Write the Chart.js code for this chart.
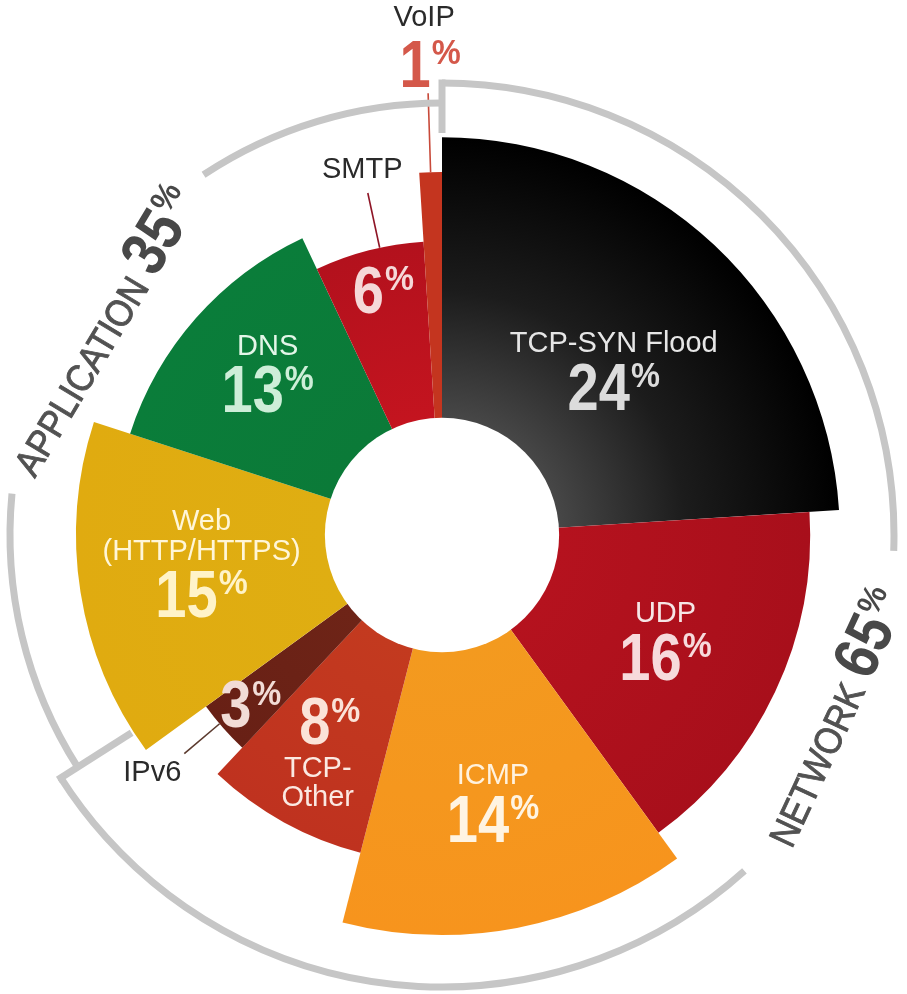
<!DOCTYPE html>
<html lang="en">
<head>
    <meta charset="UTF-8">
    <title>DDoS attack types</title>
    <script src="https://cdn.jsdelivr.net/npm/chart.js"></script>
    <style>
        body {
            margin: 0;
            background: #fff;
        }
        .chart-container {
            position: relative;
            width: 907px;
            height: 994px;
        }
    </style>
</head>
<body>
    <div class="chart-container">
        <canvas id="attackChart"></canvas>
    </div>

    <script>
        // Attack types, clockwise from 12 o'clock
        const categories = ['TCP-SYN Flood', 'UDP', 'ICMP', 'TCP-Other', 'IPv6', 'Web (HTTP/HTTPS)', 'DNS', 'SMTP', 'VoIP'];
        // Share of attacks in percent (sets the slice angle)
        const shares = [24, 16, 14, 8, 3, 15, 13, 6, 1];
        // How far each slice reaches on the radial scale (0-100)
        const reach = [90, 83.3, 90.5, 74.2, 66, 82.8, 74.2, 66.5, 82.1];
        // The two families the slices belong to
        const groups = ['NETWORK', 'APPLICATION'];
        const groupShares = [65, 35];

        // inner / outer colour of every slice
        const sliceShades = [
            ['#474747', '#000000'],
            ['#b5121e', '#a80f1b'],
            ['#f39a1f', '#f7941d'],
            ['#c33a1f', '#bf321f'],
            ['#6e2417', '#682015'],
            ['#dfae12', '#e0ab10'],
            ['#0b7a38', '#0a7d3a'],
            ['#c4141f', '#b3111d'],
            ['#c4351f', '#c4351f']
        ];
        const nameColors = ['#e6e6e6', '#f6e6e6', '#fff2de', '#fbe9e2', '#fbe9e2', '#fff6d8', '#e3f6e8', '#2a2a2a', '#2a2a2a'];
        const pctColors = ['#dcdcdc', '#f7dadc', '#fff4e2', '#fbe3d8', '#f2dcd6', '#fff3c8', '#cdeed8', '#f5d8d8', '#d4584a'];

        const FONT = '"Liberation Sans", Arial, sans-serif';
        const HOLE = 26.5;        // radial value of the white centre
        const PCT_SIZE = 66;
        const NAME_SIZE = 29;

        // label layout inside the slices: distance from centre (px), angle nudge (deg)
        const insideLabels = [
            { lines: ['TCP-SYN Flood'], r: 238, da: 3 },
            { lines: ['UDP'], r: 247, da: 0 },
            { lines: ['ICMP'], r: 272, da: 0 },
            { lines: ['TCP-', 'Other'], r: 250, da: 1, pctFirst: true, pctShift: 12 },
            { lines: [], r: 255, da: 0 },
            { lines: ['Web', '(HTTP/HTTPS)'], r: 242, da: 2.5 },
            { lines: ['DNS'], r: 238, da: 1.5 },
            { lines: [], r: 253, da: 1 },
            null
        ];

        const rad = d => d * Math.PI / 180;

        // draws a run of text pieces centred on x = 0, baseline y = 0
        function drawRun(ctx, segs) {
            let total = 0;
            segs.forEach(s => {
                ctx.font = `${s.bold ? 'bold ' : ''}${s.size}px ${FONT}`;
                s.w = ctx.measureText(s.t).width * (s.sx || 1);
                total += s.w + (s.gap || 0);
            });
            let x = -total / 2;
            segs.forEach(s => {
                ctx.save();
                ctx.font = `${s.bold ? 'bold ' : ''}${s.size}px ${FONT}`;
                ctx.fillStyle = s.color;
                ctx.textAlign = 'left';
                ctx.textBaseline = 'alphabetic';
                ctx.translate(x, -(s.raise || 0));
                ctx.scale(s.sx || 1, 1);
                ctx.fillText(s.t, 0, 0);
                if (s.stroke) {
                    ctx.strokeStyle = s.color;
                    ctx.lineWidth = s.stroke;
                    ctx.strokeText(s.t, 0, 0);
                }
                ctx.restore();
                x += s.w + (s.gap || 0);
            });
        }

        function pctSegs(value, size, color) {
            const ps = size * 0.52;
            return [
                { t: String(value), size: size, bold: true, sx: 0.85, color: color, gap: 1 },
                { t: '%', size: ps, bold: true, sx: 0.95, color: color, raise: size * 0.716 - ps * 0.72 }
            ];
        }

        // text whose cap height is centred on y
        function nameAt(ctx, str, x, y, color, align) {
            ctx.save();
            ctx.font = `${NAME_SIZE}px ${FONT}`;
            ctx.fillStyle = color;
            ctx.textAlign = align || 'center';
            ctx.textBaseline = 'alphabetic';
            ctx.fillText(str, x, y + NAME_SIZE * 0.358);
            ctx.restore();
        }

        function pctAt(ctx, value, x, y, color) {
            ctx.save();
            ctx.translate(x, y + PCT_SIZE * 0.358);
            drawRun(ctx, pctSegs(value, PCT_SIZE, color));
            ctx.restore();
        }

        function sliceFill(context) {
            const chart = context.chart;
            const s = chart.scales.r;
            const shade = sliceShades[context.dataIndex];
            if (!s || s.xCenter === undefined) return shade[1];
            const inner = s.getDistanceFromCenterForValue(HOLE);
            const outer = s.getDistanceFromCenterForValue(reach[context.dataIndex]);
            const g = chart.ctx.createRadialGradient(s.xCenter, s.yCenter, inner, s.xCenter, s.yCenter, outer);
            g.addColorStop(0, shade[0]);
            if (context.dataIndex === 0) g.addColorStop(0.45, '#1c1c1c');
            g.addColorStop(1, shade[1]);
            return g;
        }

        const decorations = {
            id: 'decorations',
            afterDatasetsDraw(chart) {
                const ctx = chart.ctx;
                const s = chart.scales.r;
                const cx = s.xCenter, cy = s.yCenter;
                const arcs = chart.getDatasetMeta(0).data;
                const pt = (deg, r) => [cx + r * Math.sin(rad(deg)), cy - r * Math.cos(rad(deg))];
                const clock = a => a * 180 / Math.PI + 90;

                // white centre
                ctx.save();
                ctx.beginPath();
                ctx.arc(cx, cy, s.getDistanceFromCenterForValue(HOLE), 0, Math.PI * 2);
                ctx.fillStyle = '#fff';
                ctx.fill();
                ctx.restore();

                // labels inside the slices
                arcs.forEach((arc, i) => {
                    const lab = insideLabels[i];
                    if (!lab) return;
                    const mid = (clock(arc.startAngle) + clock(arc.endAngle)) / 2 + lab.da;
                    const [ax, ay] = pt(mid, lab.r);
                    const L = lab.lines.length > 1 ? 30 : 0;
                    if (lab.lines.length === 0) {
                        pctAt(ctx, shares[i], ax, ay, pctColors[i]);
                    } else if (lab.pctFirst) {
                        const h = 23 + 46 + (lab.lines.length - 1) * 29 + 10.5;
                        const pc = ay - h / 2 + 23;
                        pctAt(ctx, shares[i], ax + (lab.pctShift || 0), pc, pctColors[i]);
                        lab.lines.forEach((t, j) => nameAt(ctx, t, ax, pc + 46 + j * 29, nameColors[i]));
                    } else {
                        const h = 10.5 + (lab.lines.length - 1) * L + 44 + 23;
                        const n0 = ay - h / 2 + 10.5;
                        lab.lines.forEach((t, j) => nameAt(ctx, t, ax, n0 + j * L, nameColors[i]));
                        pctAt(ctx, shares[i], ax, n0 + (lab.lines.length - 1) * L + 44, pctColors[i]);
                    }
                });

                // leader lines for the thin slices
                const leader = (i, frac, r1, color) => {
                    const arc = arcs[i];
                    const a = clock(arc.startAngle) + (clock(arc.endAngle) - clock(arc.startAngle)) * frac;
                    const p0 = pt(a, arc.outerRadius), p1 = pt(a, r1);
                    ctx.save();
                    ctx.strokeStyle = color;
                    ctx.lineWidth = 1.6;
                    ctx.beginPath();
                    ctx.moveTo(p0[0], p0[1]);
                    ctx.lineTo(p1[0], p1[1]);
                    ctx.stroke();
                    ctx.restore();
                    return { a: a, end: p1 };
                };

                // VoIP
                const voip = leader(8, 0.5, 442, '#c84a3a');
                pctAt(ctx, shares[8], voip.end[0] + 2, voip.end[1] - 30, pctColors[8]);
                nameAt(ctx, 'VoIP', voip.end[0] - 4, voip.end[1] - 78, nameColors[8]);

                // SMTP
                const smtp = leader(7, 0.6, 350, '#8e1526');
                const sp = pt(smtp.a, 376);
                nameAt(ctx, 'SMTP', sp[0], sp[1], nameColors[7]);

                // IPv6
                const ipv6 = leader(4, 0.6, 338, '#5b3a2e');
                nameAt(ctx, 'IPv6', ipv6.end[0] - 3, ipv6.end[1] + 17, '#2a2a2a', 'right');

                // group brackets
                const grey = '#c6c6c6';
                const split = groupShares[0] * 3.6 + 3.5;
                const netR = 452, appR = 432;
                ctx.save();
                ctx.strokeStyle = grey;
                ctx.lineWidth = 7;
                ctx.lineCap = 'butt';
                const arcSeg = (r, a0, a1) => {
                    ctx.beginPath();
                    ctx.arc(cx, cy, r, rad(a0 - 90), rad(a1 - 90));
                    ctx.stroke();
                };
                const tick = (a, r0, r1) => {
                    const p0 = pt(a, r0), p1 = pt(a, r1);
                    ctx.beginPath();
                    ctx.moveTo(p0[0], p0[1]);
                    ctx.lineTo(p1[0], p1[1]);
                    ctx.stroke();
                };
                const netMid = groupShares[0] * 1.8 - 2;
                const appMid = groupShares[0] * 3.6 + groupShares[1] * 1.8 + 4;
                arcSeg(netR, 0, netMid - 23);
                arcSeg(netR, netMid + 23, split);
                arcSeg(appR, split, appMid - 25.5);
                arcSeg(appR, appMid + 25.5, 360);
                tick(0, 402, netR + 3.5);
                tick(split, 368, netR + 3.5);
                ctx.restore();

                // group titles
                const title = (name, value, mid, r, flip) => {
                    const p = pt(mid, r);
                    ctx.save();
                    ctx.translate(p[0], p[1]);
                    ctx.rotate(rad(flip ? mid - 180 : mid));
                    drawRun(ctx, [{ t: name, size: 38, sx: 0.9, stroke: 0.9, color: '#525252', gap: 10 }]
                        .concat(pctSegs(value, 64, '#484848')));
                    ctx.restore();
                };
                title(groups[0], groupShares[0], netMid, 450, true);
                title(groups[1], groupShares[1], appMid, 378, false);
            }
        };

        new Chart(document.getElementById('attackChart'), {
            type: 'polarArea',
            data: {
                labels: categories,
                datasets: [{
                    data: reach,
                    angle: context => shares[context.dataIndex] * 3.6,
                    backgroundColor: sliceFill,
                    borderWidth: 0
                }]
            },
            options: {
                responsive: true,
                maintainAspectRatio: false,
                animation: false,
                layout: {
                    padding: { left: 0, right: 23, top: 76, bottom: 0 }
                },
                plugins: {
                    legend: { display: false },
                    tooltip: { enabled: false }
                },
                scales: {
                    r: {
                        display: false,
                        min: 0,
                        max: 100,
                        startAngle: 0
                    }
                }
            },
            plugins: [decorations]
        });
    </script>
</body>
</html>
